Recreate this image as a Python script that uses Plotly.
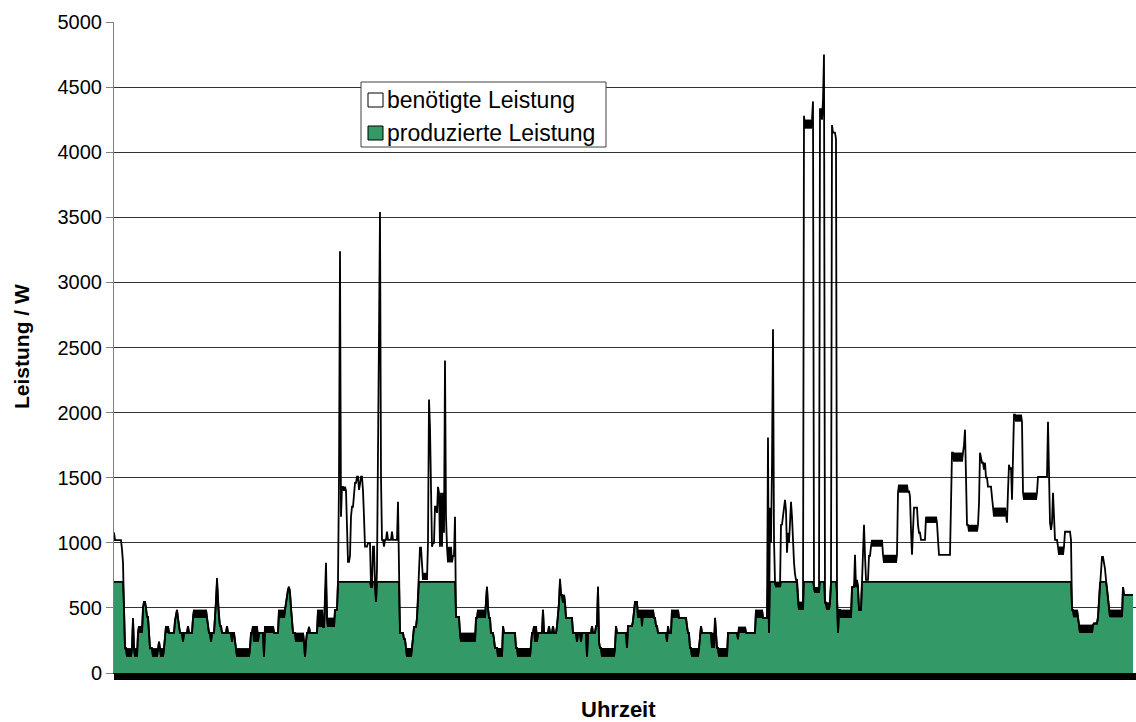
import numpy as np
import plotly.graph_objects as go

# Demand profile ("benötigte Leistung") as run-length segments.
# (samples, value) or (samples, value_a, value_b) for rapidly flickering readings.
seg_night = [
    (1, 1080), (7, 1020), (1, 950), (1, 846), (1, 500), (1, 190),
    (7, 190, 125), (1, 420), (4, 190, 125), (5, 308, 360), (1, 500), (2, 546),
    (1, 500), (2, 430), (1, 300), (2, 190), (7, 190, 125), (1, 240), (5, 190, 125),
    (4, 308, 360), (6, 308), (1, 400), (1, 450), (1, 485), (1, 420), (1, 360),
    (3, 308), (1, 240), (4, 308), (1, 360), (4, 308), (1, 423), (14, 485, 423),
    (1, 360), (2, 308), (1, 240), (3, 308), (1, 430), (1, 538), (1, 730), (1, 538),
    (1, 430), (2, 360), (5, 308), (1, 360), (4, 308), (1, 240), (2, 308), (1, 240),
    (15, 190, 125), (2, 308), (6, 360, 240), (5, 308), (1, 125), (9, 360, 308),
    (5, 308), (7, 485, 423), (1, 540), (1, 600), (1, 640), (1, 662), (1, 620),
    (1, 500), (1, 400), (2, 308), (10, 308, 240), (1, 123), (1, 240), (2, 308),
    (1, 354), (8, 308), (6, 485, 354), (1, 354), (1, 600), (1, 846), (1, 423),
    (7, 354, 423), (3, 485),
]
seg_morning = [
    (1, 700), (1, 1500), (1, 3240), (1, 1200), (2, 1430), (3, 1400, 1430), (1, 1100),
    (2, 853), (1, 900), (1, 1200), (2, 1277), (1, 1400), (2, 1460), (2, 1508),
    (1, 1407), (1, 1450), (2, 1508), (1, 1400), (1, 1200), (3, 970), (3, 1000),
    (2, 660), (2, 970), (1, 700), (1, 546), (1, 800), (1, 1500), (1, 2600),
    (1, 3540), (1, 1500), (2, 1023), (1, 970), (2, 1023), (1, 1085), (4, 1023),
    (1, 1085), (5, 1023), (1, 1315), (1, 900), (4, 308), (2, 260), (1, 192),
    (6, 123, 192), (1, 260), (3, 354), (1, 423), (1, 600), (1, 850), (2, 962),
    (6, 770, 715), (1, 1008), (1, 2100), (1, 1885), (1, 1300), (1, 970), (2, 1000),
    (2, 1277), (1, 1230), (1, 1430), (5, 1385, 970), (1, 1077), (1, 2400), (1, 1200),
    (6, 970, 850), (2, 900), (1, 1200), (4, 430),
]
seg_midday = [
    (16, 308, 240), (1, 423), (9, 423, 485), (1, 550), (1, 662), (1, 500), (2, 423),
    (3, 308), (1, 260), (2, 192), (6, 192, 125), (1, 360), (12, 308), (1, 192),
    (14, 192, 125), (1, 240), (2, 308), (4, 360, 240), (5, 308), (1, 485), (1, 308),
    (4, 308), (1, 360), (3, 308), (1, 360), (3, 308), (1, 360), (1, 450), (1, 538),
    (1, 723), (1, 600), (4, 600, 540), (7, 423), (4, 308), (1, 240), (3, 308),
    (1, 240), (5, 308), (1, 125), (4, 308), (1, 360), (3, 308), (2, 360), (1, 662),
    (1, 240), (1, 192), (15, 192, 125), (1, 360), (10, 308), (1, 192), (5, 360),
    (1, 400), (1, 500), (3, 546), (4, 423, 485), (1, 360), (12, 485, 423), (1, 423),
    (2, 360), (9, 308), (1, 240), (1, 360), (3, 308), (8, 485, 423), (7, 423),
    (1, 360), (2, 308), (1, 192), (9, 192, 125), (1, 300), (1, 360), (10, 308),
    (3, 192, 308), (1, 423), (1, 308), (1, 192), (10, 192, 125), (10, 308), (1, 260),
    (7, 354, 308), (10, 308), (7, 485, 423), (5, 423),
]
seg_evening = [
    (1, 1808), (1, 308), (1, 1270), (1, 1000), (1, 1600), (1, 2640), (1, 1023),
    (6, 700, 660), (1, 1138), (1, 1140), (1, 1200), (1, 1270), (1, 1330), (1, 1250),
    (1, 923), (1, 1077), (1, 1000), (1, 1150), (1, 1315), (1, 1200), (1, 1000),
    (1, 850), (1, 760), (2, 715), (6, 546, 485), (1, 4280), (8, 4180, 4250),
    (1, 4390), (6, 660, 615), (2, 4330), (1, 4250), (1, 4400), (1, 4750), (1, 540),
    (5, 540, 485), (1, 700), (1, 4208), (3, 4150), (1, 4100), (1, 600), (1, 308),
    (1, 485), (12, 485, 423), (3, 660), (1, 908), (3, 660, 715), (3, 485), (1, 700),
    (1, 900), (1, 1138), (1, 900), (3, 715), (2, 900), (1, 970), (11, 1023, 970),
    (15, 908, 846), (1, 1385), (10, 1446, 1385), (1, 1400), (1, 1354), (1, 1100),
    (1, 908), (1, 1100), (4, 1270), (1, 1138), (2, 1077), (5, 1023),
    (12, 1200, 1154), (1, 1023), (12, 908), (1, 1300), (1, 1692), (11, 1692, 1623),
    (1, 1750), (1, 1869), (1, 1500), (1, 1138), (11, 1138, 1085), (1, 1300),
    (1, 1692), (1, 1650), (2, 1615), (1, 1562), (1, 1615), (2, 1500), (4, 1431),
    (1, 1350), (14, 1270, 1200), (1, 1154), (1, 1400), (1, 1600), (1, 1562),
    (1, 1580), (1, 1330), (1, 1700), (1, 1985), (8, 1985, 1930), (15, 1385, 1330),
    (10, 1507), (1, 1930), (1, 1400), (3, 1154, 1100), (1, 1385), (1, 1200),
    (3, 1023), (7, 970, 908), (6, 1085), (1, 1023),
]
seg_late = [
    (1, 485), (6, 485, 430), (15, 370, 308), (4, 380), (1, 430), (1, 550), (1, 692),
    (1, 780), (2, 892), (1, 846), (1, 800), (1, 715), (1, 650), (1, 585),
    (14, 485, 430), (1, 660), (10, 600),
]

# Maximum producible power (flat top of the green area), W
pv_limit_w = 700

y_ticks = [0, 500, 1000, 1500, 2000, 2500, 3000, 3500, 4000, 4500, 5000]
legend_labels = ["benötigte Leistung", "produzierte Leistung"]


def expand(segs):
    out = []
    for s in segs:
        n = s[0]
        if len(s) == 2:
            out += [s[1]] * n
        else:
            out += [s[1] if k % 2 == 0 else s[2] for k in range(n)]
    return out


demand = np.array(expand(seg_night) + expand(seg_morning) + expand(seg_midday)
                  + expand(seg_evening) + expand(seg_late), dtype=float)
produced = np.minimum(demand, pv_limit_w)
x = np.arange(len(demand))

GREEN = "#339966"
FONT = "Liberation Sans, Arial, sans-serif"

fig = go.Figure()
fig.add_trace(go.Scatter(x=x, y=produced, mode="lines", fill="tozeroy",
                         fillcolor=GREEN, line=dict(color="black", width=1.8),
                         name=legend_labels[1], showlegend=False, hoverinfo="skip"))
fig.add_trace(go.Scatter(x=x, y=demand, mode="lines",
                         line=dict(color="black", width=1.8),
                         name=legend_labels[0], showlegend=False, hoverinfo="skip"))

W, H = 1136, 722
ml, mr, mt, mb = 114, 0, 22, 49
pw, ph = W - ml - mr, H - mt - mb


def px(xp):
    return (xp - ml) / pw


def py(yp):
    return (H - mb - yp) / ph


shapes = [
    dict(type="rect", xref="paper", yref="paper", x0=px(361), x1=px(606), y0=py(147), y1=py(82),
         line=dict(color="#404040", width=1), fillcolor="white", layer="above"),
    dict(type="rect", xref="paper", yref="paper", x0=px(368), x1=px(383), y0=py(107), y1=py(93),
         line=dict(color="black", width=1), fillcolor="white", layer="above"),
    dict(type="rect", xref="paper", yref="paper", x0=px(368), x1=px(383), y0=py(140), y1=py(126),
         line=dict(color="black", width=1), fillcolor=GREEN, layer="above"),
]
annotations = [
    dict(text=legend_labels[0], xref="paper", yref="paper", x=px(385), y=py(100),
         xanchor="left", yanchor="middle", showarrow=False, font=dict(family=FONT, size=23, color="black")),
    dict(text=legend_labels[1], xref="paper", yref="paper", x=px(385), y=py(133),
         xanchor="left", yanchor="middle", showarrow=False, font=dict(family=FONT, size=23, color="black")),
    dict(text="<b>Uhrzeit</b>", xref="paper", yref="paper", x=px(618), y=py(709),
         xanchor="center", yanchor="middle", showarrow=False, font=dict(family=FONT, size=22, color="black")),
    dict(text="<b>Leistung / W</b>", xref="paper", yref="paper", x=px(21), y=py(347),
         xanchor="center", yanchor="middle", textangle=-90, showarrow=False,
         font=dict(family=FONT, size=21, color="black")),
]

fig.update_layout(
    width=W, height=H,
    margin=dict(l=ml, r=mr, t=mt, b=mb, pad=0),
    paper_bgcolor="white", plot_bgcolor="white",
    font=dict(family=FONT, size=20, color="black"),
    shapes=shapes, annotations=annotations,
    showlegend=False,
)
fig.update_xaxes(range=[0, pw], showgrid=False, zeroline=False, showline=True,
                 linecolor="black", linewidth=1, tickmode="linear", tick0=0, dtick=1,
                 ticks="outside", ticklen=6, tickwidth=1, tickcolor="black",
                 showticklabels=False)
fig.update_yaxes(range=[0, 5000], tickvals=y_ticks, showgrid=True, gridcolor="#333333",
                 gridwidth=1, zeroline=False, showline=True, linecolor="#808080",
                 linewidth=1, ticks="outside", ticklen=7, tickcolor="#808080",
                 tickfont=dict(family=FONT, size=20, color="black"))

fig.write_html("out.html")
